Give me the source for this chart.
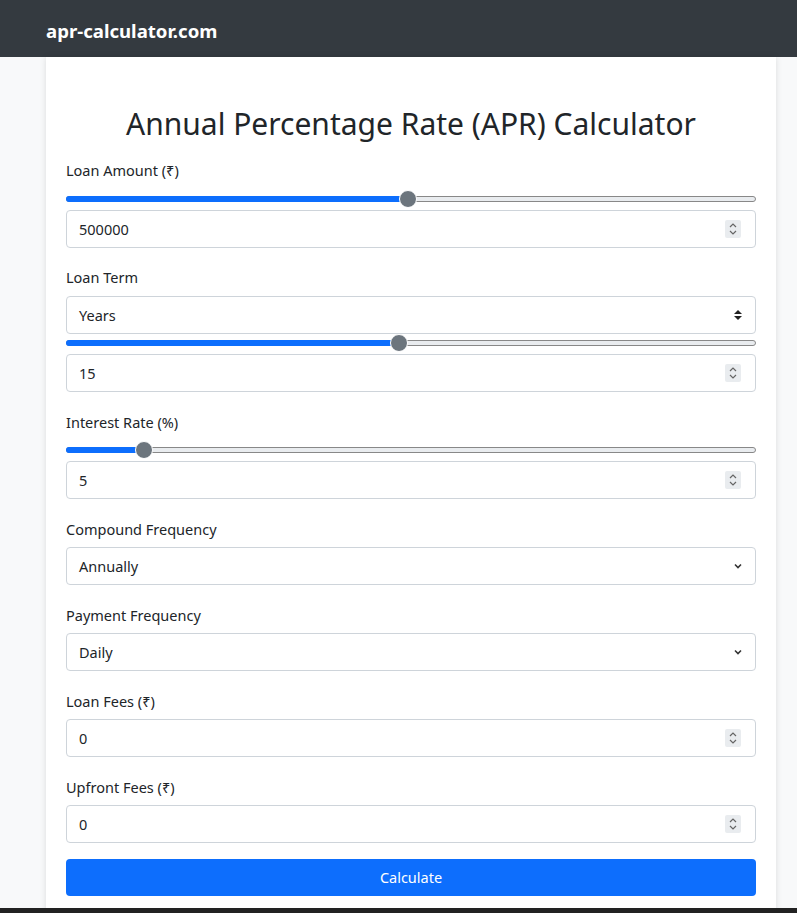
<!DOCTYPE html>
<html><head><meta charset="utf-8">
<script src="https://cdn.jsdelivr.net/npm/chart.js"></script>
<style>
body{margin:0;width:797px;height:913px;background:#f8f9fa;font-family:"Noto Sans",sans-serif;color:#212529;overflow:hidden;position:relative}
.nav{position:absolute;left:0;top:0;width:797px;height:57px;background:#343a40}
.brand{position:absolute;left:46px;top:18px;color:#fff;font-weight:700;font-size:18.6px}
.card{position:absolute;left:46px;top:57px;width:730px;height:860px;background:#fff;box-shadow:0 0 6px rgba(0,0,0,.12)}
.title{position:absolute;left:46px;width:730px;top:103px;text-align:center;font-size:30px}
.lbl{position:absolute;left:66px;font-size:14.5px}
.box{position:absolute;left:66px;width:688px;height:36px;border:1px solid #ced4da;border-radius:4px;background:#fff;font-size:14.5px;line-height:36px;text-indent:12px}
.spin{position:absolute;right:14px;top:9px;width:16px;height:18px;background:#e9ecef;border-radius:2px}
.icon{position:absolute;right:12px;top:12px}
.range{position:absolute;left:66px;width:690px;height:6px;border:1px solid #888;border-radius:4px;background:#e9ecef;box-sizing:border-box}
.fill{position:absolute;left:-1px;top:-1px;height:6px;background:#0d6efd;border-radius:4px}
.thumb{position:absolute;top:-7px;width:18px;height:18px;border-radius:50%;background:#6c757d;border:1px solid #fff;margin-left:-9px;box-sizing:border-box}
.btn{position:absolute;left:66px;top:859px;width:690px;height:37px;background:#0d6efd;border-radius:4px;color:#fff;text-align:center;line-height:37px;font-size:14.5px}
.bottom{position:absolute;left:0;top:908px;width:797px;height:5px;background:#222}
</style></head><body>
<div class="nav"><div class="brand">apr-calculator.com</div></div>
<div class="card"></div>
<div class="title">Annual Percentage Rate (APR) Calculator</div>
<div id="form"></div>
<div class="btn">Calculate</div>
<div class="bottom"></div>
<script>
const labels=["Loan Amount (₹)","Loan Term","Interest Rate (%)","Compound Frequency","Payment Frequency","Loan Fees (₹)","Upfront Fees (₹)"];
const values=["500000","Years|15","5","Annually","Daily","0","0"];
const sliderPct=[49.5,48.3,11.2];
const f=document.getElementById('form');
const spinSvg='<svg class="spin" viewBox="0 0 16 18"><path d="M5 7l3-3 3 3M5 11l3 3 3-3" fill="none" stroke="#666" stroke-width="1.2"/></svg>';
const updown='<svg class="icon" width="10" height="12" viewBox="0 0 10 12"><path d="M1 5l4-4 4 4zM1 7l4 4 4-4z" fill="#222"/></svg>';
const chev='<svg class="icon" width="10" height="12" viewBox="0 0 10 12"><path d="M2 4.5l3 3 3-3" fill="none" stroke="#333" stroke-width="1.6"/></svg>';
function add(h){f.insertAdjacentHTML('beforeend',h);}
function lbl(t,y){add(`<div class="lbl" style="top:${y}px">${t}</div>`);}
function num(v,y){add(`<div class="box" style="top:${y}px">${v}${spinSvg}</div>`);}
function sel(v,y,icon){add(`<div class="box" style="top:${y}px">${v}${icon}</div>`);}
function rng(p,y){add(`<div class="range" style="top:${y-3}px"><div class="fill" style="width:${p}%"></div><div class="thumb" style="left:${p}%"></div></div>`);}
lbl(labels[0],160);rng(sliderPct[0],199);num(values[0],210);
lbl(labels[1],267);sel(values[1].split('|')[0],296,updown);rng(sliderPct[1],343);num(values[1].split('|')[1],354);
lbl(labels[2],412);rng(sliderPct[2],450);num(values[2],461);
lbl(labels[3],519);sel(values[3],547,chev);
lbl(labels[4],605);sel(values[4],633,chev);
lbl(labels[5],691);num(values[5],719);
lbl(labels[6],777);num(values[6],805);
</script>
</body></html>
